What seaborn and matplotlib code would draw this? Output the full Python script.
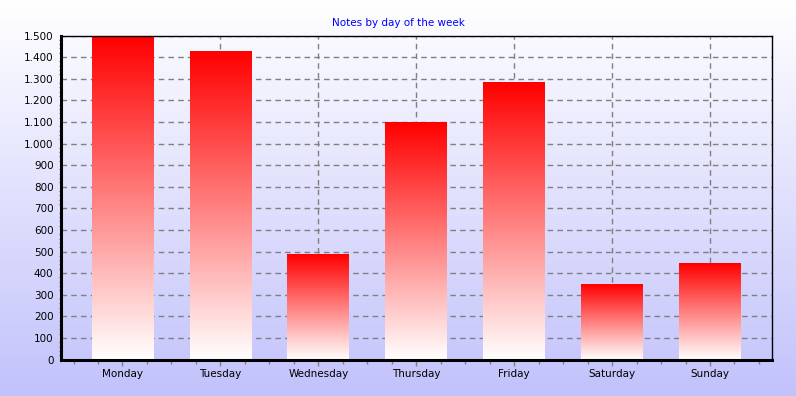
import numpy as np
import pandas as pd
import seaborn as sns
import matplotlib.pyplot as plt
from matplotlib.colors import LinearSegmentedColormap
from matplotlib.ticker import MultipleLocator, FuncFormatter

# values
days = ['Monday', 'Tuesday', 'Wednesday', 'Thursday', 'Friday', 'Saturday', 'Sunday']
notes = [1500, 1430, 490, 1100, 1285, 350, 445]

df = pd.DataFrame({'day': days, 'notes': notes})

sns.set_style('white')
plt.rcParams['font.family'] = ['DejaVu Sans']
plt.rcParams['font.size'] = 7.5

W, H = 796, 396
fig = plt.figure(figsize=(W / 100, H / 100), dpi=100)

# background gradient white -> lavender
bg = fig.add_axes([0, 0, 1, 1], zorder=-10)
bg_cmap = LinearSegmentedColormap.from_list('bg', ['#ffffff', '#c2c2fc'])
bg.imshow(np.linspace(0, 1, 256).reshape(-1, 1), aspect='auto', cmap=bg_cmap,
          extent=[0, 1, 0, 1], origin='upper')
bg.axis('off')

left, right, top, bottom = 60.5, 772, 35.5, 359.5
ax = fig.add_axes([left / W, 1 - bottom / H, (right - left) / W, (bottom - top) / H])
ax.patch.set_alpha(0)

sns.barplot(data=df, x='day', y='notes', color='red', width=0.63, ax=ax,
            saturation=1, edgecolor='none')

# red-to-white gradient inside each bar
bar_cmap = LinearSegmentedColormap.from_list('bar', ['#ffffff', '#ff0000'])
grad = np.linspace(0, 1, 256).reshape(-1, 1)
for p in ax.patches:
    x0, w, h = p.get_x(), p.get_width(), p.get_height()
    im = ax.imshow(grad, aspect='auto', cmap=bar_cmap, origin='lower',
                   extent=[x0, x0 + w, 0, h], zorder=p.get_zorder() + 0.1)
    im.set_clip_path(p)

ax.set_xlim(-0.633, 6.633)
ax.set_ylim(0, 1500)
ax.set_xlabel('')
ax.set_ylabel('')

ax.yaxis.set_major_locator(MultipleLocator(100))
ax.yaxis.set_minor_locator(MultipleLocator(20))
ax.yaxis.set_major_formatter(FuncFormatter(lambda v, _: f'{int(v):,}'.replace(',', '.')))
ax.xaxis.set_minor_locator(MultipleLocator(0.25))

ax.set_axisbelow(True)
ax.grid(True, which='major', axis='both', color='#808080', linestyle=(0, (4, 3)), linewidth=1)

ax.tick_params(axis='both', which='both', direction='out', colors='#000000', labelsize=7.5)
ax.tick_params(axis='y', which='major', length=3, width=1, pad=2)
ax.tick_params(axis='y', which='minor', length=1.5, width=0.8, color='#606060', left=True)
ax.tick_params(axis='x', which='major', length=4, width=1, color='#808080', pad=3, bottom=True)
ax.tick_params(axis='x', which='minor', length=3, width=1, color='#808080', bottom=True)

for s in ['left', 'bottom']:
    ax.spines[s].set_linewidth(2.2)
    ax.spines[s].set_color('black')
for s in ['top', 'right']:
    ax.spines[s].set_linewidth(1)
    ax.spines[s].set_color('black')
    ax.spines[s].set_visible(True)

fig.text(0.5, 1 - 22.5 / H, 'Notes by day of the week', color='#0000ff',
         ha='center', va='center', fontsize=7.5)

fig.savefig('out.png', dpi=100)
